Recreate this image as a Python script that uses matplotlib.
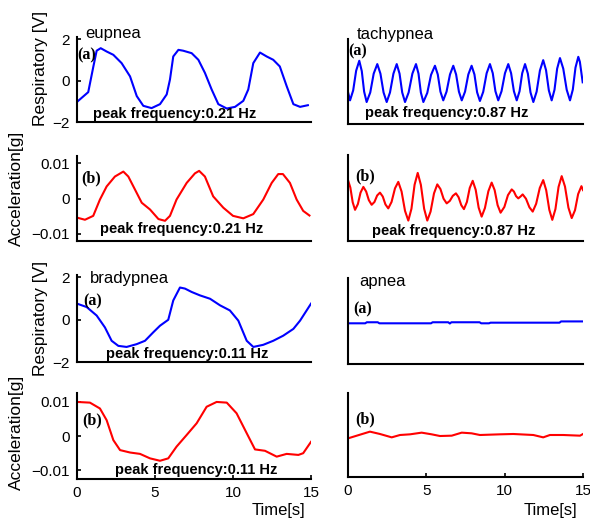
import matplotlib

matplotlib.use("Agg")
import numpy as np
from matplotlib import pyplot as plt

plt.rcParams["font.family"] = ["Liberation Sans", "DejaVu Sans"]

# eupnea
eup_resp_t = [0, 0.72, 1.05, 1.26, 1.52, 1.9, 2.33, 2.86, 3.4, 3.83, 4.25, 4.78, 5.32, 5.75, 5.96, 6.17,
              6.5, 6.8, 7.35, 7.78, 8.2, 8.63, 9.06, 9.6, 10.13, 10.66, 10.98, 11.3, 11.73, 12.16, 12.58,
              13.0, 13.44, 13.87, 14.3, 14.8]
eup_resp_v = [-1.03, -0.56, 0.68, 1.44, 1.56, 1.40, 1.24, 0.84, 0.2, -0.75, -1.22, -1.33, -1.14, -0.67,
              0.05, 1.16, 1.48, 1.44, 1.32, 1.0, 0.37, -0.43, -1.14, -1.35, -1.27, -0.98, -0.43, 0.84,
              1.35, 1.16, 1.0, 0.68, -0.27, -1.14, -1.27, -1.19]
eup_acc_t = [0, 0.51, 1.04, 1.47, 1.9, 2.43, 2.97, 3.29, 3.72, 4.15, 4.68, 5.22, 5.64, 5.96, 6.38, 7.03,
             7.56, 7.83, 8.2, 8.73, 9.38, 10.0, 10.66, 11.3, 11.94, 12.48, 12.9, 13.2, 13.65, 14.08,
             14.5, 14.9]
eup_acc_v = [-0.0054, -0.0060, -0.0049, -0.0003, 0.0034, 0.0062, 0.0076, 0.0062, 0.0025, -0.0012,
             -0.0031, -0.0058, -0.0063, -0.0049, -0.0003, 0.0044, 0.0071, 0.0078, 0.0062, 0.0006,
             -0.0026, -0.0049, -0.0056, -0.0044, -0.0003, 0.0044, 0.0069, 0.0069, 0.0044, -0.0003,
             -0.0035, -0.0048]

# tachypnea
tac_resp_t = [0, 0.13, 0.33, 0.52, 0.72, 0.88, 1.03, 1.19, 1.42, 1.64, 1.87, 2.07, 2.27, 2.47, 2.68,
              2.90, 3.11, 3.29, 3.46, 3.64, 3.87, 4.11, 4.34, 4.50, 4.65, 4.81, 5.06, 5.30, 5.55, 5.73,
              5.90, 6.08, 6.29, 6.51, 6.72, 6.90, 7.08, 7.26, 7.47, 7.68, 7.89, 8.07, 8.24, 8.42, 8.63,
              8.85, 9.06, 9.24, 9.41, 9.59, 9.80, 10.02, 10.23, 10.41, 10.59, 10.77, 10.95, 11.12,
              11.3, 11.48, 11.65, 11.83, 12.04, 12.25, 12.46, 12.64, 12.82, 13.0, 13.18, 13.35, 13.53,
              13.74, 13.96, 14.17, 14.35, 14.52, 14.7, 14.8, 14.98]
tac_resp_v = [-0.46, -0.86, -0.38, 0.57, 1.05, 0.55, -0.44, -0.94, -0.48, 0.43, 0.89, 0.43, -0.48,
              -0.94, -0.48, 0.43, 0.89, 0.43, -0.48, -0.94, -0.48, 0.43, 0.89, 0.43, -0.48, -0.94,
              -0.50, 0.37, 0.81, 0.39, -0.44, -0.86, -0.44, 0.39, 0.81, 0.39, -0.44, -0.86, -0.44,
              0.39, 0.81, 0.39, -0.47, -0.89, -0.45, 0.45, 0.89, 0.45, -0.42, -0.86, -0.42, 0.45,
              0.89, 0.45, -0.42, -0.86, -0.42, 0.45, 0.89, 0.43, -0.48, -0.94, -0.44, 0.58, 1.08,
              0.60, -0.38, -0.86, -0.35, 0.67, 1.18, 0.67, -0.35, -0.86, -0.34, 0.72, 1.24, 1.0, 0.01]
tac_acc_t = [0, 0.15, 0.30, 0.45, 0.63, 0.80, 0.98, 1.16, 1.33, 1.51, 1.69, 1.86, 2.04, 2.22, 2.39,
             2.57, 2.78, 3.00, 3.21, 3.42, 3.64, 3.85, 4.05, 4.25, 4.45, 4.65, 4.86, 5.06, 5.27, 5.49,
             5.70, 5.90, 6.10, 6.30, 6.50, 6.69, 6.89, 7.06, 7.23, 7.40, 7.59, 7.77, 7.96, 8.15, 8.34,
             8.53, 8.74, 8.96, 9.17, 9.36, 9.55, 9.74, 9.98, 10.21, 10.45, 10.59, 10.73, 10.87, 11.01,
             11.15, 11.36, 11.58, 11.79, 12.01, 12.24, 12.46, 12.65, 12.85, 13.04, 13.24, 13.44,
             13.64, 13.85, 14.07, 14.28, 14.49, 14.69, 14.9, 15.0]
tac_acc_v = [0.0050, 0.0029, -0.0012, -0.0033, -0.0017, 0.0015, 0.0031, 0.0018, -0.0006, -0.0019,
             -0.0011, 0.0007, 0.0015, 0.0004, -0.0018, -0.0029, -0.0011, 0.0027, 0.0045, 0.0018,
             -0.0036, -0.0063, -0.0030, 0.0037, 0.0070, 0.0037, -0.0030, -0.0063, -0.0038, 0.0013,
             0.0038, 0.0025, -0.0002, -0.0015, -0.0008, 0.0006, 0.0013, 0.0002, -0.0020, -0.0031,
             -0.0011, 0.0028, 0.0048, 0.0023, -0.0027, -0.0052, -0.0028, 0.0019, 0.0043, 0.0022,
             -0.0020, -0.0041, -0.0025, 0.0008, 0.0024, 0.0018, 0.0005, -0.0001, 0.0004, 0.0010,
             -0.0002, -0.0026, -0.0038, -0.0016, 0.0028, 0.0050, 0.0022, -0.0033, -0.0061, -0.0031,
             0.0031, 0.0061, 0.0032, -0.0027, -0.0056, -0.0034, 0.0011, 0.0033, 0.0022]

# bradypnea
bra_resp_t = [0, 0.62, 1.26, 1.79, 2.22, 2.65, 3.18, 3.82, 4.36, 4.89, 5.32, 5.85, 6.17, 6.6, 6.92,
              7.35, 7.88, 8.53, 9.17, 9.8, 10.34, 10.88, 11.3, 11.94, 12.58, 13.22, 13.87, 14.3, 15.0]
bra_resp_v = [0.75, 0.59, 0.19, -0.37, -1.0, -1.24, -1.29, -1.16, -1.0, -0.6, -0.29, -0.01, 0.9, 1.51,
              1.46, 1.3, 1.14, 0.98, 0.67, 0.43, -0.05, -1.0, -1.29, -1.19, -1.0, -0.76, -0.44, -0.05,
              0.75]
bra_acc_t = [0, 0.83, 1.47, 1.9, 2.33, 2.76, 3.4, 4.04, 4.68, 5.32, 5.85, 6.38, 7.03, 7.67, 8.31, 8.95,
             9.6, 10.23, 10.88, 11.41, 12.05, 12.8, 13.44, 14.19, 14.5, 15.0]
bra_acc_v = [0.0099, 0.0097, 0.0080, 0.0046, -0.0012, -0.0041, -0.0048, -0.0052, -0.0065, -0.0072,
             -0.0065, -0.0031, 0.0003, 0.0037, 0.0085, 0.0099, 0.0097, 0.0066, 0.0008, -0.0039,
             -0.0043, -0.0060, -0.0052, -0.0055, -0.0050, -0.0017]

# apnea
apn_resp_t = [0, 1.1, 1.2, 1.9, 2.0, 5.3, 5.4, 6.4, 6.5, 6.6, 8.4, 8.5, 9.0, 9.1, 13.5, 13.6, 15.0]
apn_resp_v = [-0.06, -0.06, -0.01, -0.01, -0.06, -0.06, -0.01, -0.01, -0.07, -0.01, -0.01, -0.06,
              -0.06, -0.03, -0.03, 0.03, 0.03]
apn_acc_t = [0, 1.4, 2.04, 2.79, 3.32, 3.96, 4.7, 5.34, 5.87, 6.62, 7.26, 7.89, 8.42, 9.7, 10.55, 11.83,
             12.46, 12.89, 13.74, 14.81, 15.0]
apn_acc_v = [-0.0010, 0.0010, 0.0003, -0.0007, 0.0, 0.0002, 0.0007, 0.0002, -0.0003, -0.0002, 0.0007,
             0.0005, 0.0, 0.0002, 0.0003, 0.0, -0.0007, 0.0, 0.0, -0.0002, 0.0003]

W, H = 590, 518


def px_rect(left, top, right, bottom):
    return [left / W, 1 - bottom / H, (right - left) / W, (bottom - top) / H]


def style_axes(ax, ylim):
    ax.set_xlim(0, 15)
    ax.set_ylim(*ylim)
    for s in ["top", "right"]:
        ax.spines[s].set_visible(False)
    for s in ["left", "bottom"]:
        ax.spines[s].set_linewidth(1.5)
    ax.tick_params(direction="in", length=3, width=1.2, labelsize=11, pad=5)
    ax.set_xticks([])


def note(ax, x, y, label, text=None, tx=0.0, ty=0.0):
    ax.text(x, y, label, transform=ax.transAxes, fontsize=11.5, fontweight="bold",
            family=["Liberation Serif", "DejaVu Serif"], va="center", ha="left")
    if text:
        ax.text(tx, ty, text, transform=ax.transAxes, fontsize=10.5, fontweight="bold",
                va="baseline", ha="left")


fig = plt.figure(figsize=(W / 100, H / 100), dpi=100)

resp_lim = (-2, 2.1)
acc_lim = (-0.012, 0.012)
acc_lim4 = (-0.0125, 0.0125)

# left column
ax1 = fig.add_axes(px_rect(77, 37, 311, 122))
ax1.plot(eup_resp_t, eup_resp_v, color="#0000ff", lw=1.5)
style_axes(ax1, resp_lim)
ax1.set_yticks([-2, 0, 2])
ax1.text(0.034, 0.99, "eupnea", transform=ax1.transAxes, fontsize=12, va="baseline")
note(ax1, 0.0, 0.78, "(a)", "peak frequency:0.21 Hz", 0.068, 0.045)

ax2 = fig.add_axes(px_rect(77, 156, 311, 241))
ax2.plot(eup_acc_t, eup_acc_v, color="#ff0000", lw=1.5)
style_axes(ax2, acc_lim)
ax2.set_yticks([-0.01, 0, 0.01])
ax2.set_yticklabels(["\u22120.01", "0", "0.01"])
note(ax2, 0.02, 0.74, "(b)", "peak frequency:0.21 Hz", 0.098, 0.098)

ax3 = fig.add_axes(px_rect(77, 275, 311, 362))
ax3.plot(bra_resp_t, bra_resp_v, color="#0000ff", lw=1.5)
style_axes(ax3, resp_lim)
ax3.set_yticks([-2, 0, 2])
ax3.text(0.056, 0.91, "bradypnea", transform=ax3.transAxes, fontsize=12, va="baseline")
note(ax3, 0.027, 0.70, "(a)", "peak frequency:0.11 Hz", 0.124, 0.043)

ax4 = fig.add_axes(px_rect(77, 393, 311, 479))
ax4.plot(bra_acc_t, bra_acc_v, color="#ff0000", lw=1.5)
style_axes(ax4, acc_lim4)
ax4.set_yticks([-0.01, 0, 0.01])
ax4.set_yticklabels(["\u22120.01", "0", "0.01"])
ax4.set_xticks([0, 5, 10, 15])
note(ax4, 0.024, 0.686, "(b)", "peak frequency:0.11 Hz", 0.162, 0.058)

# right column
ax5 = fig.add_axes(px_rect(348, 39, 583, 124))
ax5.plot(tac_resp_t, tac_resp_v, color="#0000ff", lw=1.5)
style_axes(ax5, resp_lim)
ax5.set_yticks([])
ax5.text(0.038, 1.0, "tachypnea", transform=ax5.transAxes, fontsize=12, va="baseline")
note(ax5, 0.0, 0.86, "(a)", "peak frequency:0.87 Hz", 0.072, 0.086)

ax6 = fig.add_axes(px_rect(348, 155, 583, 241))
ax6.plot(tac_acc_t, tac_acc_v, color="#ff0000", lw=1.5)
style_axes(ax6, acc_lim)
ax6.set_yticks([])
note(ax6, 0.03, 0.756, "(b)", "peak frequency:0.87 Hz", 0.10, 0.07)

ax7 = fig.add_axes(px_rect(348, 278, 583, 364))
ax7.plot(apn_resp_t, apn_resp_v, color="#0000ff", lw=1.5)
style_axes(ax7, resp_lim)
ax7.set_yticks([])
ax7.text(0.048, 0.907, "apnea", transform=ax7.transAxes, fontsize=12, va="baseline")
note(ax7, 0.023, 0.63, "(a)")

ax8 = fig.add_axes(px_rect(348, 393, 583, 477))
ax8.plot(apn_acc_t, apn_acc_v, color="#ff0000", lw=1.5)
style_axes(ax8, acc_lim4)
ax8.set_yticks([])
ax8.set_xticks([0, 5, 10, 15])
note(ax8, 0.03, 0.69, "(b)")

# shared labels
for y, txt in [(68, "Respiratory [V]"), (318, "Respiratory [V]")]:
    fig.text(40.5 / W, 1 - y / H, txt, rotation=90, fontsize=12.5, ha="center", va="center")
for y, txt in [(188, "Acceleration[g]"), (432, "Acceleration[g]")]:
    fig.text(16.7 / W, 1 - y / H, txt, rotation=90, fontsize=12.5, ha="center", va="center")
for x in [305, 577]:
    fig.text(x / W, 1 - 510 / H, "Time[s]", fontsize=12, ha="right", va="center")

fig.savefig("out.png", dpi=100)
